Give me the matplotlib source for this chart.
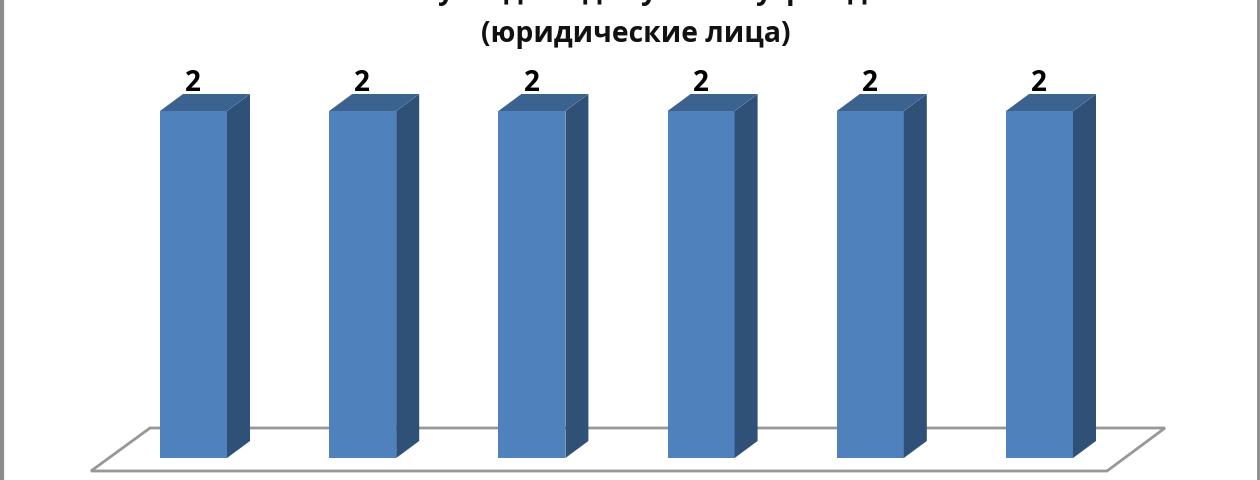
import matplotlib
matplotlib.use("Agg")
import matplotlib.pyplot as plt
from matplotlib.patches import Polygon, Rectangle

categories = ["1", "2", "3", "4", "5", "6"]
values = [2, 2, 2, 2, 2, 2]
subtitle = "(юридические лица)"
# first title line is cut off by the image edge: only these descenders show
title_fragments = ["у", "д", "д", "у", "у", "р", "д"]
fragment_px = [446, 513, 592, 649, 764, 795, 857]

W, H = 1260, 480
BAR_W, DX, DY = 67, 23, 17   # px: bar width and 3D depth
X0, STEP, Y0, UNIT = 193.5, 169.2, 458.0, 173.5

plt.rcParams["font.family"] = ["Open Sans", "Liberation Sans", "DejaVu Sans"]
fig = plt.figure(figsize=(W / 100, H / 100), dpi=100, facecolor="white")
ax = fig.add_axes([0, 0, 1, 1])
ax.set_xlim((0 - X0) / STEP, (W - X0) / STEP)
ax.set_ylim((Y0 - H) / UNIT, Y0 / UNIT)
ax.axis("off")

bw, dx, dy = BAR_W / STEP, DX / STEP, DY / UNIT

# floor
fx0, fx1 = (91 - X0) / STEP, (1107 - X0) / STEP
fy0, fy1 = (Y0 - 471) / UNIT, (Y0 - 428) / UNIT
sx = 58 / STEP
ax.add_patch(Polygon([(fx0, fy0), (fx1, fy0), (fx1 + sx, fy1), (fx0 + sx + 1 / STEP, fy1)],
                     closed=True, fc="white", ec="#979797", lw=2.0, zorder=1))

for i, v in enumerate(values):
    l, r = i - bw / 2, i + bw / 2
    ax.add_patch(Rectangle((l, 0), bw, v, fc="#4f81bd", ec="none", zorder=3))
    ax.add_patch(Polygon([(r, 0), (r + dx, dy), (r + dx, v + dy), (r, v)],
                         fc="#2f5178", ec="none", zorder=3))
    ax.add_patch(Polygon([(l, v), (l + dx, v + dy), (r + dx, v + dy), (r, v)],
                         fc="#3c6390", ec="none", zorder=3))
    ax.text(i - 0.5 / STEP, v + dy + 3 / UNIT, str(v), ha="center", va="baseline",
            fontsize=20, fontweight="bold", color="black", zorder=4)

# subtitle
ax.text((636 - X0) / STEP, (Y0 - 34.5) / UNIT, subtitle, ha="center", va="center",
        fontsize=20.4, fontweight="bold", color="#111111")

# cut-off first title line
for ch, px in zip(title_fragments, fragment_px):
    ax.text((px - X0) / STEP, (Y0 + 1.5) / UNIT, ch, ha="center", va="baseline",
            fontsize=20.4, fontweight="bold", color="#111111")

# outer frame of the chart
ax.axvline((1.5 - X0) / STEP, color="#8c8c8c", lw=3)
ax.axvline((1258.5 - X0) / STEP, color="#8c8c8c", lw=2)

fig.savefig("out.png", dpi=100)
